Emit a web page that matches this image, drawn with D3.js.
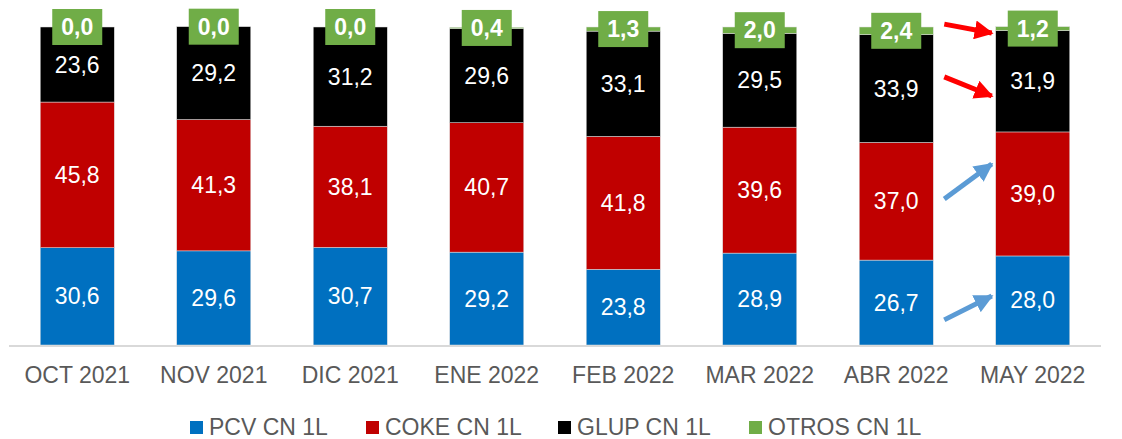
<!DOCTYPE html>
<html>
<head>
<meta charset="utf-8">
<script src="https://cdn.jsdelivr.net/npm/d3@7"></script>
<style>
  body { margin: 0; background: #fff; }
  svg text { font-family: "Liberation Sans", Arial, sans-serif; }
</style>
</head>
<body>
<div id="chart"></div>
<script>
const months = ["OCT 2021", "NOV 2021", "DIC 2021", "ENE 2022", "FEB 2022", "MAR 2022", "ABR 2022", "MAY 2022"];
const seriesNames = ["PCV CN 1L", "COKE CN 1L", "GLUP CN 1L", "OTROS CN 1L"];
const seriesColors = ["#0070C0", "#C00000", "#000000", "#70AD47"];
const pcv = [30.6, 29.6, 30.7, 29.2, 23.8, 28.9, 26.7, 28.0];
const coke = [45.8, 41.3, 38.1, 40.7, 41.8, 39.6, 37.0, 39.0];
const glup = [23.6, 29.2, 31.2, 29.6, 33.1, 29.5, 33.9, 31.9];
const otros = [0.0, 0.0, 0.0, 0.4, 1.3, 2.0, 2.4, 1.2];

// annotation arrows between ABR and MAY (value units: from -> to)
const arrows = [
    {from: 100.9, to: 98.1, color: "#FF0000"},
    {from: 84.3, to: 78.3, color: "#FF0000"},
    {from: 45.9, to: 56.9, color: "#5B9BD5"},
    {from: 7.9, to: 15.4, color: "#5B9BD5"}
];

const width = 1122, height = 439;
const margin = {top: 27, right: 21, bottom: 94, left: 9};

const rows = months.map((m, i) => ({
    month: m, "PCV CN 1L": pcv[i], "COKE CN 1L": coke[i], "GLUP CN 1L": glup[i], "OTROS CN 1L": otros[i]
}));
const stacked = d3.stack().keys(seriesNames)(rows);

const x = d3.scaleBand()
    .domain(months)
    .range([margin.left, width - margin.right])
    .paddingInner(0.4575)
    .paddingOuter(0.4575 / 2);

const y = d3.scaleLinear()
    .domain([0, 100])
    .range([height - margin.bottom, margin.top]);

const svg = d3.select("#chart").append("svg")
    .attr("width", width)
    .attr("height", height);

// baseline
svg.append("line")
    .attr("x1", margin.left).attr("x2", width - margin.right)
    .attr("y1", y(0) + 1).attr("y2", y(0) + 1)
    .attr("stroke", "#d9d9d9")
    .attr("stroke-width", 2);

const layers = svg.append("g").selectAll("g")
    .data(stacked)
    .join("g")
    .attr("fill", (d, i) => seriesColors[i]);

layers.selectAll("rect")
    .data(d => d)
    .join("rect")
    .attr("x", d => x(d.data.month))
    .attr("y", d => y(d[1]))
    .attr("width", x.bandwidth())
    .attr("height", d => y(d[0]) - y(d[1]))
    .attr("stroke", "#e0e0e0")
    .attr("stroke-width", 0.5);

const fmt = v => d3.format(".1f")(v).replace(".", ",");

// labels for first three series
stacked.slice(0, 3).forEach(layer => {
    svg.append("g").selectAll("text")
        .data(layer)
        .join("text")
        .attr("x", d => x(d.data.month) + x.bandwidth() / 2)
        .attr("y", d => (y(d[0]) + y(d[1])) / 2)
        .attr("text-anchor", "middle")
        .attr("dominant-baseline", "central")
        .attr("fill", "#fff")
        .attr("font-size", "23px")
        .text(d => fmt(d[1] - d[0]));
});

// green boxed labels for OTROS
const otrosLayer = stacked[3];
const boxes = svg.append("g").selectAll("g")
    .data(otrosLayer)
    .join("g")
    .attr("transform", d => `translate(${x(d.data.month) + x.bandwidth() / 2},${(y(d[0]) + y(d[1])) / 2})`);

boxes.append("rect")
    .attr("x", -25).attr("y", -18)
    .attr("width", 50).attr("height", 36)
    .attr("fill", "#70AD47");

boxes.append("text")
    .attr("text-anchor", "middle")
    .attr("dominant-baseline", "central")
    .attr("fill", "#fff")
    .attr("font-weight", "bold")
    .attr("font-size", "23px")
    .text(d => fmt(d[1] - d[0]));

// category labels
svg.append("g").selectAll("text")
    .data(months)
    .join("text")
    .attr("x", d => x(d) + x.bandwidth() / 2)
    .attr("y", 375)
    .attr("text-anchor", "middle")
    .attr("dominant-baseline", "central")
    .attr("fill", "#595959")
    .attr("font-size", "23px")
    .text(d => d);

// arrows
const defs = svg.append("defs");
arrows.forEach((a, i) => {
    defs.append("marker")
        .attr("id", "arrow" + i)
        .attr("viewBox", "0 0 10 10")
        .attr("refX", 9).attr("refY", 5)
        .attr("markerWidth", 3.8).attr("markerHeight", 3.8)
        .attr("orient", "auto")
        .append("path")
        .attr("d", "M0,0 L10,5 L0,10 Z")
        .attr("fill", a.color);
});
const x0 = x("ABR 2022") + x.bandwidth() + 11;
const x1 = x("MAY 2022") - 4;
svg.append("g").selectAll("line")
    .data(arrows)
    .join("line")
    .attr("x1", x0).attr("y1", d => y(d.from))
    .attr("x2", x1).attr("y2", d => y(d.to))
    .attr("stroke", d => d.color)
    .attr("stroke-width", 5)
    .attr("marker-end", (d, i) => `url(#arrow${i})`);

// legend
const legendX = [190, 366, 558, 749];
const legend = svg.append("g").selectAll("g")
    .data(seriesNames)
    .join("g")
    .attr("transform", (d, i) => `translate(${legendX[i]},427)`);
legend.append("rect")
    .attr("x", 0).attr("y", -6)
    .attr("width", 13).attr("height", 13)
    .attr("fill", (d, i) => seriesColors[i]);
legend.append("text")
    .attr("x", 19)
    .attr("dominant-baseline", "central")
    .attr("fill", "#595959")
    .attr("font-size", "23px")
    .text(d => d);
</script>
</body>
</html>
